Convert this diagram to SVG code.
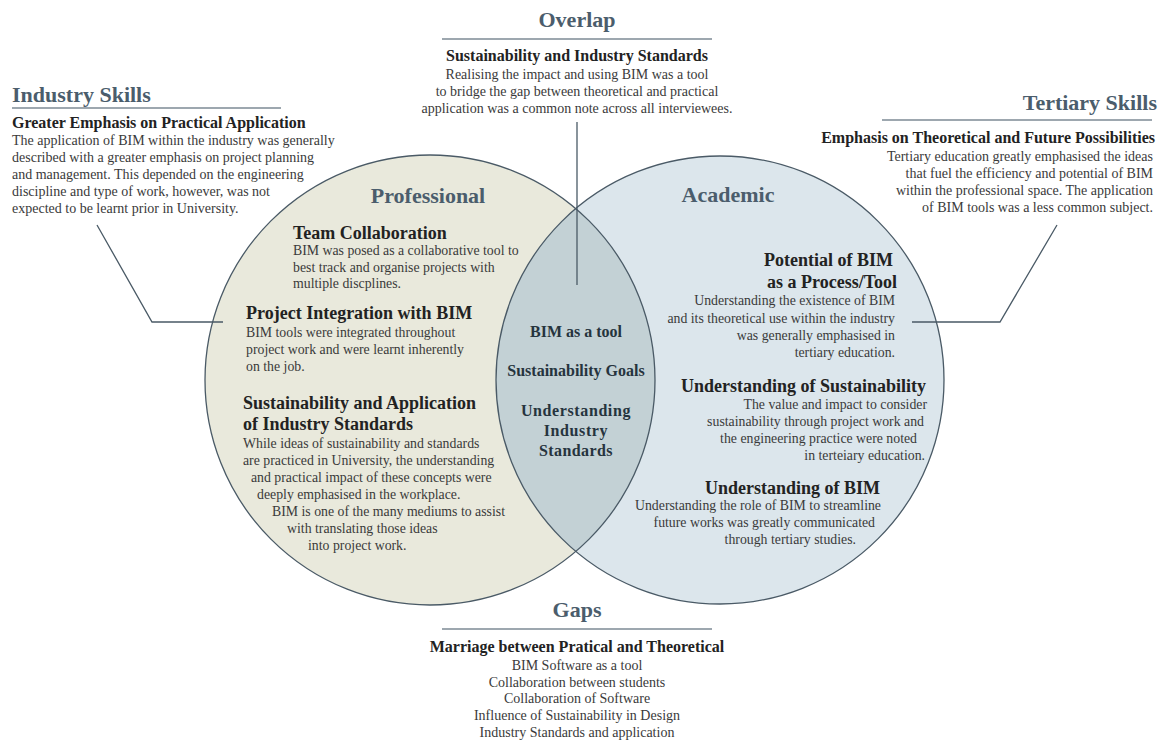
<svg xmlns="http://www.w3.org/2000/svg" width="1161" height="742" viewBox="0 0 1161 742">
<style>
text{font-family:"Liberation Serif","Times New Roman",serif;}
.title{font-size:22px;font-weight:bold;fill:#4b5d6c;}
.sub{font-size:16px;font-weight:bold;fill:#222;}
.isub{font-size:18px;font-weight:bold;fill:#222;}
.body{font-size:14px;fill:#3a3a3a;}
.ibody{font-size:13.8px;fill:#3a3a3a;}
.lens{font-size:16px;font-weight:bold;fill:#26343e;}
.rule{stroke:#7d8a94;stroke-width:1.5;fill:none;}
.conn{stroke:#4a5a66;stroke-width:1.3;fill:none;}
.edge{stroke:#4a5a66;stroke-width:1.3;fill:none;}
.c{text-anchor:middle;}
.e{text-anchor:end;}
</style>
<g id="venn">
<circle cx="430" cy="380" r="225" fill="#e9e9dc"/>
<circle cx="720" cy="380" r="224" fill="#dce6ec"/>
<path d="M575.8 208.6 A225 225 0 0 1 575.8 551.4 A224 224 0 0 1 575.8 208.6 Z" fill="#c3d1d5"/>
<circle class="edge" cx="430" cy="380" r="225"/>
<circle class="edge" cx="720" cy="380" r="224"/>
</g>
<g id="connectors">
<polyline class="conn" points="97,225 152,322 223,322"/>
<polyline class="conn" points="1057,225 1000,322 912,322"/>
<line class="conn" x1="577" y1="122" x2="577" y2="285"/>
</g>
<g id="industry-skills">
<text class="title" x="12" y="102">Industry Skills</text>
<line class="rule" x1="12" y1="108" x2="281" y2="108"/>
<text class="sub" x="12" y="128">Greater Emphasis on Practical Application</text>
<text class="body" x="12" y="145">The application of BIM within the industry was generally</text>
<text class="body" x="12" y="162">described with a greater emphasis on project planning</text>
<text class="body" x="12" y="179">and management. This depended on the engineering</text>
<text class="body" x="12" y="196">discipline and type of work, however, was not</text>
<text class="body" x="12" y="213">expected to be learnt prior in University.</text>
</g>
<g id="overlap">
<text class="title c" x="577" y="27">Overlap</text>
<line class="rule" x1="442" y1="39" x2="712" y2="39"/>
<text class="sub c" x="577" y="61">Sustainability and Industry Standards</text>
<text class="body c" x="577" y="79">Realising the impact and using BIM was a tool</text>
<text class="body c" x="577" y="96">to bridge the gap between theoretical and practical</text>
<text class="body c" x="577" y="113">application was a common note across all interviewees.</text>
</g>
<g id="tertiary-skills">
<text class="title e" x="1157" y="110">Tertiary Skills</text>
<line class="rule" x1="882" y1="120" x2="1152" y2="120"/>
<text class="sub e" x="1155" y="143">Emphasis on Theoretical and Future Possibilities</text>
<text class="body e" x="1153" y="161">Tertiary education greatly emphasised the ideas</text>
<text class="body e" x="1153" y="178">that fuel the efficiency and potential of BIM</text>
<text class="body e" x="1153" y="195">within the professional space. The application</text>
<text class="body e" x="1153" y="212">of BIM tools was a less common subject.</text>
</g>
<g id="professional">
<text class="title c" x="428" y="203">Professional</text>
<text class="isub" x="293" y="239">Team Collaboration</text>
<text class="ibody" x="293" y="255">BIM was posed as a collaborative tool to</text>
<text class="ibody" x="293" y="272">best track and organise projects with</text>
<text class="ibody" x="293" y="288">multiple discplines.</text>
<text class="isub" x="246" y="319">Project Integration with BIM</text>
<text class="ibody" x="246" y="337">BIM tools were integrated throughout</text>
<text class="ibody" x="246" y="354">project work and were learnt inherently</text>
<text class="ibody" x="246" y="371">on the job.</text>
<text class="isub" x="243" y="409">Sustainability and Application</text>
<text class="isub" x="243" y="430">of Industry Standards</text>
<text class="ibody" x="243" y="448">While ideas of sustainability and standards</text>
<text class="ibody" x="243" y="465">are practiced in University, the understanding</text>
<text class="ibody" x="251" y="482">and practical impact of these concepts were</text>
<text class="ibody" x="257" y="499">deeply emphasised in the workplace.</text>
<text class="ibody" x="272" y="516">BIM is one of the many mediums to assist</text>
<text class="ibody" x="287" y="533">with translating those ideas</text>
<text class="ibody" x="308" y="550">into project work.</text>
</g>
<g id="shared">
<text class="lens c" x="576" y="337">BIM as a tool</text>
<text class="lens c" x="576" y="376">Sustainability Goals</text>
<text class="lens c" x="576" y="416" letter-spacing="0.6">Understanding</text>
<text class="lens c" x="576" y="436" letter-spacing="0.6">Industry</text>
<text class="lens c" x="576" y="456" letter-spacing="0.4">Standards</text>
</g>
<g id="academic">
<text class="title c" x="728" y="202">Academic</text>
<text class="isub e" x="893" y="266">Potential of BIM</text>
<text class="isub e" x="897" y="288">as a Process/Tool</text>
<text class="ibody e" x="895" y="305">Understanding the existence of BIM</text>
<text class="ibody e" x="895" y="323">and its theoretical use within the industry</text>
<text class="ibody e" x="895" y="340">was generally emphasised in</text>
<text class="ibody e" x="895" y="357">tertiary education.</text>
<text class="isub e" x="926" y="392">Understanding of Sustainability</text>
<text class="ibody e" x="927" y="409">The value and impact to consider</text>
<text class="ibody e" x="924" y="426">sustainability through project work and</text>
<text class="ibody e" x="917" y="443">the engineering practice were noted</text>
<text class="ibody e" x="925" y="460">in terteiary education.</text>
<text class="isub e" x="880" y="494">Understanding of BIM</text>
<text class="ibody e" x="881" y="510">Understanding the role of BIM to streamline</text>
<text class="ibody e" x="875" y="527">future works was greatly communicated</text>
<text class="ibody e" x="856" y="544">through tertiary studies.</text>
</g>
<g id="gaps">
<text class="title c" x="577" y="617">Gaps</text>
<line class="rule" x1="442" y1="629" x2="712" y2="629"/>
<text class="sub c" x="577" y="652">Marriage between Pratical and Theoretical</text>
<text class="body c" x="577" y="670">BIM Software as a tool</text>
<text class="body c" x="577" y="687">Collaboration between students</text>
<text class="body c" x="577" y="703">Collaboration of Software</text>
<text class="body c" x="577" y="720">Influence of Sustainability in Design</text>
<text class="body c" x="577" y="737">Industry Standards and application</text>
</g>
</svg>
